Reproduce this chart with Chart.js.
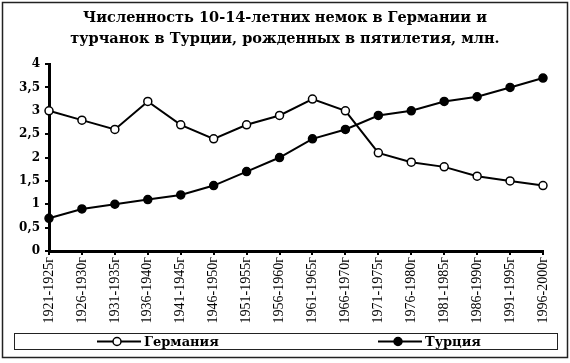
<!DOCTYPE html>
<html>
<head>
<meta charset="utf-8">
<script src="https://cdn.jsdelivr.net/npm/chart.js@4/dist/chart.umd.min.js"></script>
<style>
  html, body { margin: 0; padding: 0; background: #fff; }
  #wrap { width: 570px; height: 363px; position: relative; }
</style>
</head>
<body>
<div id="wrap"><canvas id="chart" width="570" height="363"></canvas></div>
<script>
  var TITLE = ['Численность 10-14-летних немок в Германии и', 'турчанок в Турции, рожденных в пятилетия, млн.'];
  var PERIODS = ['1921-1925г', '1926-1930г', '1931-1935г', '1936-1940г', '1941-1945г', '1946-1950г',
    '1951-1955г', '1956-1960г', '1961-1965г', '1966-1970г', '1971-1975г', '1976-1980г',
    '1981-1985г', '1986-1990г', '1991-1995г', '1996-2000г'];
  var GERMANY = [3.0, 2.8, 2.6, 3.2, 2.7, 2.4, 2.7, 2.9, 3.25, 3.0, 2.1, 1.9, 1.8, 1.6, 1.5, 1.4];
  var TURKEY = [0.7, 0.9, 1.0, 1.1, 1.2, 1.4, 1.7, 2.0, 2.4, 2.6, 2.9, 3.0, 3.2, 3.3, 3.5, 3.7];
  var SERIES_NAMES = ['Германия', 'Турция'];

  var SERIF = '"Liberation Serif", "DejaVu Serif", serif';
  var WIDE = '"DejaVu Serif", serif';

  // outer frame + legend box at the bottom, drawn like the spreadsheet original
  var framePlugin = {
    id: 'frame',
    beforeDraw: function(chart) {
      var ctx = chart.ctx;
      ctx.save();
      ctx.fillStyle = '#fff';
      ctx.fillRect(0, 0, chart.width, chart.height);
      ctx.strokeStyle = '#222';
      ctx.lineWidth = 1.5;
      ctx.strokeRect(2.5, 2.5, 565, 355);
      ctx.restore();
    },
    afterDraw: function(chart) {
      var ctx = chart.ctx;
      ctx.save();
      ctx.strokeStyle = '#222';
      ctx.lineWidth = 1;
      ctx.strokeRect(14.5, 333.5, 543, 16);
      var slots = [97, 378];
      chart.data.datasets.forEach(function(ds, i) {
        var x = slots[i], y = 341.5;
        ctx.strokeStyle = '#000';
        ctx.lineWidth = 2;
        ctx.beginPath();
        ctx.moveTo(x, y);
        ctx.lineTo(x + 44, y);
        ctx.stroke();
        ctx.beginPath();
        ctx.arc(x + 20, y, 4, 0, Math.PI * 2);
        ctx.fillStyle = ds.pointBackgroundColor;
        ctx.fill();
        ctx.lineWidth = 1.5;
        ctx.stroke();
        ctx.fillStyle = '#000';
        ctx.font = 'bold 13px ' + WIDE;
        ctx.textBaseline = 'middle';
        ctx.fillText(ds.label, x + 47, y + 1);
      });
      ctx.restore();
    }
  };

  new Chart(document.getElementById('chart'), {
    type: 'line',
    data: {
      labels: PERIODS,
      datasets: [
        { label: SERIES_NAMES[0], data: GERMANY, borderColor: '#000', borderWidth: 2,
          pointRadius: 4, pointBorderWidth: 1.5, pointBackgroundColor: '#fff', pointBorderColor: '#000',
          tension: 0, clip: false },
        { label: SERIES_NAMES[1], data: TURKEY, borderColor: '#000', borderWidth: 2,
          pointRadius: 4, pointBorderWidth: 1.5, pointBackgroundColor: '#000', pointBorderColor: '#000',
          tension: 0, clip: false }
      ]
    },
    options: {
      responsive: false,
      animation: false,
      layout: { padding: { left: 0, right: 0, top: 0, bottom: 40 } },
      plugins: {
        legend: { display: false },
        tooltip: { enabled: false },
        title: {
          display: true, text: TITLE, color: '#000',
          font: { family: WIDE, size: 14.5, weight: 'bold', lineHeight: 1.45 },
          padding: { top: 8, bottom: 14 }
        }
      },
      scales: {
        x: {
          type: 'category',
          offset: false,
          afterFit: function(s) { s.height = 72; },
          border: { display: true, color: '#000', width: 3 },
          grid: { display: true, drawOnChartArea: false, drawTicks: true, tickLength: 4, color: '#000', lineWidth: 2, offset: false },
          ticks: { autoSkip: false, minRotation: 90, maxRotation: 90, color: '#000', padding: 2,
            font: { family: SERIF, size: 14 } }
        },
        y: {
          min: 0, max: 4,
          afterFit: function(s) { s.width = 49; },
          border: { display: true, color: '#000', width: 3 },
          grid: { display: true, drawOnChartArea: false, drawTicks: true, tickLength: 4, color: '#000', lineWidth: 2 },
          ticks: { stepSize: 0.5, color: '#000', padding: 5,
            font: { family: WIDE, size: 12, weight: 'bold' },
            callback: function(v) { return String(v).replace('.', ','); } }
        },
        // empty right-hand axis only reserves the margin, so the title stays centred on the frame
        spacer: {
          position: 'right',
          min: 0, max: 4,
          afterFit: function(s) { s.width = 27; },
          border: { display: false },
          grid: { display: false },
          ticks: { display: false }
        }
      }
    },
    plugins: [framePlugin]
  });
</script>
</body>
</html>
